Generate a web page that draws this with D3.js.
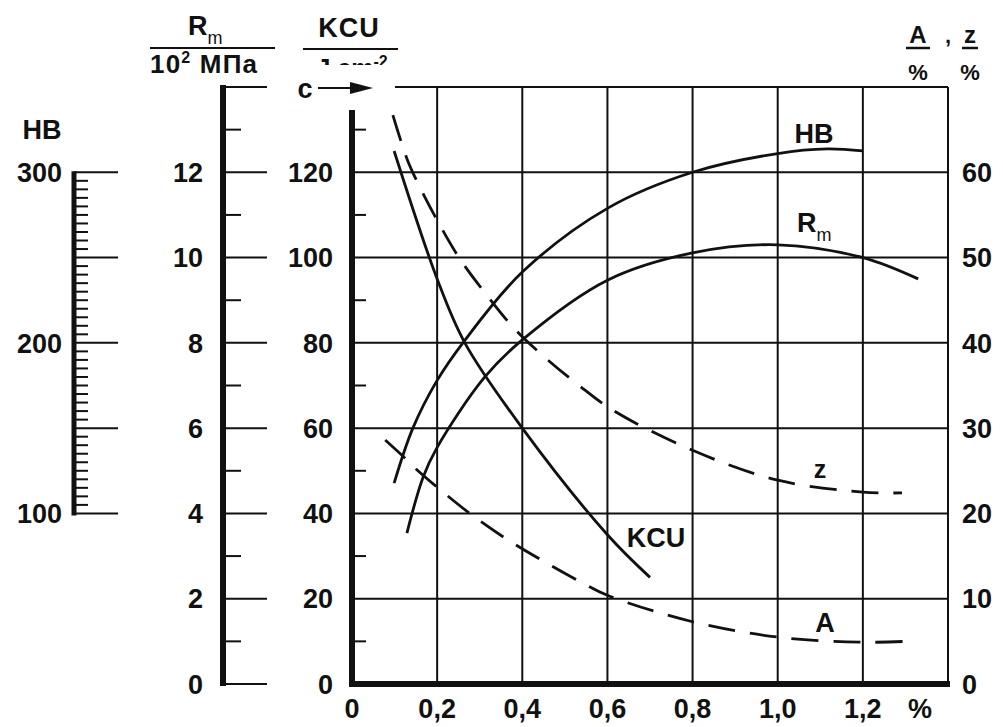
<!DOCTYPE html>
<html>
<head>
<meta charset="utf-8">
<script src="https://cdn.jsdelivr.net/npm/d3@7"></script>
<style>
  body { margin: 0; background: #fff; }
  text { font-family: "Liberation Sans", Arial, sans-serif; font-weight: bold; fill: #111; }
</style>
</head>
<body>
<svg id="chart" width="1003" height="727"></svg>
<script>
// x = carbon content, %
const xTicks = [0, 0.2, 0.4, 0.6, 0.8, 1.0, 1.2];
const kcuTicks = [0, 20, 40, 60, 80, 100, 120];
const rmTicks = [0, 2, 4, 6, 8, 10, 12];
const hbTicks = [100, 200, 300];
const azTicks = [0, 10, 20, 30, 40, 50, 60];

// curves: [x, value]
const hbData = [[0.099,117.8],[0.143,150],[0.2,178],[0.265,201.5],[0.4,241.5],[0.601,279],[0.8,300],[1.0,311],[1.116,313.7],[1.2,312.5]];
const rmData = [[0.129,3.54],[0.167,4.85],[0.2,5.55],[0.312,7.2],[0.4,8.07],[0.6,9.47],[0.8,10.11],[1.0,10.3],[1.2,10.0],[1.33,9.5]];
const kcuData = [[0.099,125],[0.2,95],[0.265,80],[0.4,60],[0.6,35],[0.7,25]];
const zData = [[0.096,66.7],[0.129,61.6],[0.155,58.7],[0.202,54.2],[0.254,49.8],[0.315,45.7],[0.381,41.7],[0.453,38.3],[0.531,35.1],[0.613,32.1],[0.8,27.4],[1.0,23.9],[1.2,22.5],[1.292,22.4]];
const aData = [[0.078,28.6],[0.124,26.5],[0.153,25.1],[0.202,23.0],[0.282,19.8],[0.366,16.9],[0.453,14.3],[0.536,12.0],[0.6,10.4],[0.8,7.3],[1.0,5.5],[1.2,4.9],[1.3,5.0]];

const svg = d3.select('#chart');
const pTop = 87, pBottom = 684, pLeft = 352, pRight = 948;

const x = d3.scaleLinear().domain([0, 1.4]).range([pLeft, pRight]);
const yK = d3.scaleLinear().domain([0, 140]).range([pBottom, pTop]);
const yRm = d3.scaleLinear().domain([0, 14]).range([pBottom, pTop]);
const yHB = d3.scaleLinear().domain([0, 350]).range([pBottom, pTop]);
const yAz = d3.scaleLinear().domain([0, 70]).range([pBottom, pTop]);

const fmt = v => v === 0 ? '0' : d3.format('.1f')(v).replace('.', ',');
const fs = 27;

// grid
const g = svg.append('g').attr('stroke', '#111').attr('stroke-width', 2);
g.selectAll('.vg').data(xTicks.slice(1).concat([1.4])).enter().append('line')
    .attr('x1', d => x(d)).attr('x2', d => x(d))
    .attr('y1', pTop).attr('y2', pBottom);
g.selectAll('.hg').data(kcuTicks.slice(1)).enter().append('line')
    .attr('x1', pLeft).attr('x2', pRight)
    .attr('y1', d => yK(d)).attr('y2', d => yK(d));
g.append('line').attr('x1', 395).attr('x2', pRight).attr('y1', yK(140)).attr('y2', yK(140));

// KCU axis
g.selectAll('.km').data(d3.range(10, 140, 20)).enter().append('line')
    .attr('x1', pLeft).attr('x2', pLeft + 14)
    .attr('y1', d => yK(d)).attr('y2', d => yK(d));
svg.append('line').attr('x1', pLeft).attr('x2', pLeft).attr('y1', 110).attr('y2', pBottom + 3)
    .attr('stroke', '#111').attr('stroke-width', 6);
svg.append('line').attr('x1', pLeft - 3).attr('x2', pRight + 2).attr('y1', pBottom).attr('y2', pBottom)
    .attr('stroke', '#111').attr('stroke-width', 6);
svg.selectAll('.kl').data(kcuTicks).enter().append('text')
    .attr('x', 333).attr('y', d => yK(d)).attr('dy', '0.36em')
    .attr('text-anchor', 'end').attr('font-size', fs).text(d => d);

// Rm axis
const rmX = 223;
g.selectAll('.rM').data(d3.range(0, 15, 2)).enter().append('line')
    .attr('x1', rmX).attr('x2', rmX + 44)
    .attr('y1', d => yRm(d)).attr('y2', d => yRm(d));
g.selectAll('.rm').data(d3.range(1, 14, 2)).enter().append('line')
    .attr('x1', rmX).attr('x2', rmX + 18)
    .attr('y1', d => yRm(d)).attr('y2', d => yRm(d));
svg.append('line').attr('x1', rmX).attr('x2', rmX).attr('y1', pTop - 2).attr('y2', pBottom + 2)
    .attr('stroke', '#111').attr('stroke-width', 6);
svg.selectAll('.rl').data(rmTicks).enter().append('text')
    .attr('x', 203).attr('y', d => yRm(d)).attr('dy', '0.36em')
    .attr('text-anchor', 'end').attr('font-size', fs).text(d => d);

// HB axis
const hbX = 74;
g.selectAll('.hM').data(d3.range(100, 301, 50)).enter().append('line')
    .attr('x1', hbX).attr('x2', 118)
    .attr('y1', d => yHB(d)).attr('y2', d => yHB(d));
g.selectAll('.hm').data(d3.range(105, 300, 5).filter(d => d % 50 !== 0)).enter().append('line')
    .attr('x1', hbX).attr('x2', hbX + 14)
    .attr('y1', d => yHB(d)).attr('y2', d => yHB(d));
svg.append('line').attr('x1', hbX).attr('x2', hbX).attr('y1', yHB(300) - 1).attr('y2', yHB(100) + 2)
    .attr('stroke', '#111').attr('stroke-width', 5);
svg.selectAll('.hl').data(hbTicks).enter().append('text')
    .attr('x', 62).attr('y', d => yHB(d)).attr('dy', '0.36em')
    .attr('text-anchor', 'end').attr('font-size', fs).text(d => d);
svg.append('text').attr('x', 42).attr('y', 139).attr('text-anchor', 'middle')
    .attr('font-size', fs).text('HB');

// right axis
svg.selectAll('.al').data(azTicks).enter().append('text')
    .attr('x', 962).attr('y', d => yAz(d)).attr('dy', '0.36em')
    .attr('font-size', fs).text(d => d);

// x labels
svg.selectAll('.xl').data(xTicks).enter().append('text')
    .attr('x', d => x(d)).attr('y', 718).attr('text-anchor', 'middle')
    .attr('font-size', fs).text(fmt);
svg.append('text').attr('x', 920).attr('y', 718).attr('text-anchor', 'middle')
    .attr('font-size', fs).text('%');

// curves
const line = (ys) => d3.line().x(d => x(d[0])).y(d => ys(d[1])).curve(d3.curveCatmullRom.alpha(0.5));
const curves = [
    {data: hbData, y: yHB, dash: null},
    {data: rmData, y: yRm, dash: null},
    {data: kcuData, y: yK, dash: null},
    {data: zData, y: yAz, dash: '27,15'},
    {data: aData, y: yAz, dash: '27,15'}
];
svg.selectAll('.curve').data(curves).enter().append('path')
    .attr('d', c => line(c.y)(c.data))
    .attr('fill', 'none').attr('stroke', '#111').attr('stroke-width', 2.8)
    .attr('stroke-dasharray', c => c.dash);

// curve labels
svg.append('text').attr('x', 814).attr('y', 143).attr('text-anchor', 'middle').attr('font-size', fs).text('HB');
const rmL = svg.append('text').attr('x', 797).attr('y', 232).attr('font-size', fs);
rmL.append('tspan').text('R');
rmL.append('tspan').attr('font-size', 18).attr('dy', 9).attr('font-weight', 'normal').text('m');
svg.append('text').attr('x', 656).attr('y', 547).attr('text-anchor', 'middle').attr('font-size', fs).text('KCU');
svg.append('text').attr('x', 820).attr('y', 478).attr('text-anchor', 'middle').attr('font-size', 25).text('z');
svg.append('text').attr('x', 825).attr('y', 632).attr('text-anchor', 'middle').attr('font-size', fs).text('A');

// arrow "c"
svg.append('text').attr('x', 305).attr('y', 98).attr('text-anchor', 'middle').attr('font-size', fs).text('c');
svg.append('line').attr('x1', 318).attr('x2', 352).attr('y1', 88).attr('y2', 88)
    .attr('stroke', '#111').attr('stroke-width', 2);
svg.append('path').attr('d', 'M350,82 L373,88 L350,94 Z').attr('fill', '#111');

// headers
const rmH = svg.append('text').attr('x', 188).attr('y', 35).attr('font-size', fs);
rmH.append('tspan').text('R');
rmH.append('tspan').attr('font-size', 18).attr('dy', 9).attr('font-weight', 'normal').text('m');
svg.append('line').attr('x1', 150).attr('x2', 275).attr('y1', 48).attr('y2', 48).attr('stroke', '#111').attr('stroke-width', 2);
const tenH = svg.append('text').attr('x', 150).attr('y', 73).attr('font-size', 26).attr('letter-spacing', 1.2);
tenH.append('tspan').text('10');
tenH.append('tspan').attr('font-size', 16).attr('dy', -10).text('2');
tenH.append('tspan').attr('dy', 10).text(' МПа');

svg.append('text').attr('x', 349).attr('y', 37).attr('text-anchor', 'middle').attr('font-size', fs).attr('letter-spacing', 1).text('KCU');
svg.append('line').attr('x1', 303).attr('x2', 398).attr('y1', 49).attr('y2', 49).attr('stroke', '#111').attr('stroke-width', 2);
svg.append('clipPath').attr('id', 'cut').append('rect').attr('x', 290).attr('y', 50).attr('width', 120).attr('height', 15);
const jH = svg.append('text').attr('x', 352).attr('y', 77).attr('text-anchor', 'middle')
    .attr('font-size', 25).attr('clip-path', 'url(#cut)');
jH.append('tspan').text('J cm');
jH.append('tspan').attr('font-size', 16).attr('dy', -10).text('-2');

svg.append('text').attr('x', 918).attr('y', 43).attr('text-anchor', 'middle').attr('font-size', 24).text('A');
svg.append('line').attr('x1', 906).attr('x2', 930).attr('y1', 48).attr('y2', 48).attr('stroke', '#111').attr('stroke-width', 2.5);
svg.append('text').attr('x', 918).attr('y', 80).attr('text-anchor', 'middle').attr('font-size', 22).text('%');
svg.append('text').attr('x', 948).attr('y', 43).attr('text-anchor', 'middle').attr('font-size', 22).text(',');
svg.append('text').attr('x', 970).attr('y', 43).attr('text-anchor', 'middle').attr('font-size', 24).text('z');
svg.append('line').attr('x1', 962).attr('x2', 978).attr('y1', 48).attr('y2', 48).attr('stroke', '#111').attr('stroke-width', 2.5);
svg.append('text').attr('x', 970).attr('y', 80).attr('text-anchor', 'middle').attr('font-size', 22).text('%');
</script>
</body>
</html>
